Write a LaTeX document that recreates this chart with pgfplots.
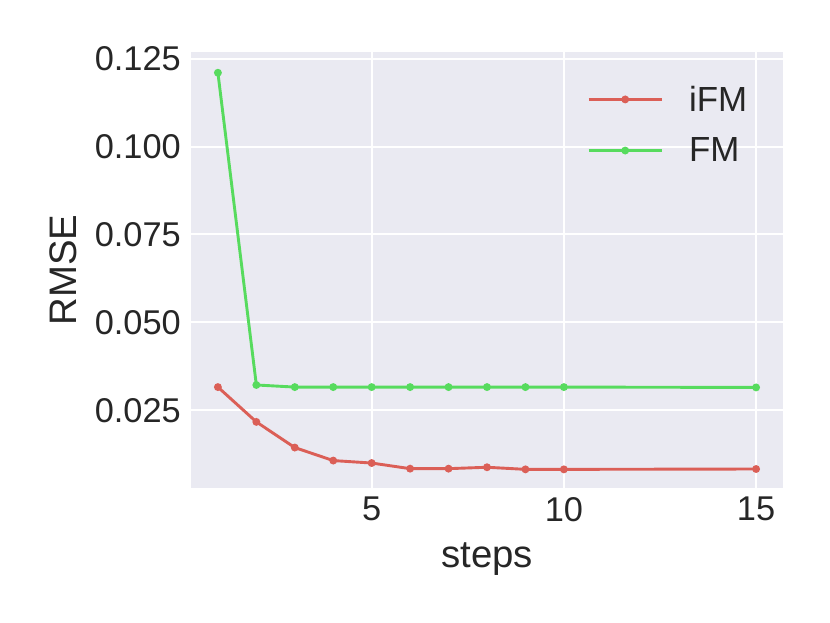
\documentclass[border=0pt]{standalone}
\usepackage{fontspec}
\setmainfont{Liberation Sans}
\usepackage{pgfplots}
\pgfplotsset{compat=1.18}
\definecolor{sbbg}{HTML}{EAEAF2}
\definecolor{ifmred}{RGB}{219,95,87}
\definecolor{fmgreen}{RGB}{87,219,94}
\definecolor{txt}{HTML}{262626}

\begin{document}
\begin{tikzpicture}
\useasboundingbox (-191bp,-135bp) rectangle (639bp,488bp);
\begin{axis}[
  at={(0,0)}, anchor=south west,
  width=592bp, height=436bp, scale only axis,
  xmin=0.3, xmax=15.7, ymin=0.0029, ymax=0.1269,
  axis background/.style={fill=sbbg},
  axis line style={draw=none},
  major tick length=0pt,
  grid=major, grid style={white, line width=2bp},
  xtick={5,10,15}, ytick={0.025,0.05,0.075,0.1,0.125},
  scaled y ticks=false,
  /pgf/number format/assume math mode=true,
  y tick label style={/pgf/number format/fixed, /pgf/number format/fixed zerofill, /pgf/number format/precision=3},
  tick label style={font=\fontsize{34.5}{40}\selectfont, text=txt, inner sep=0pt},
  xticklabel style={anchor=north, yshift=-9bp},
  yticklabel style={anchor=east, xshift=-10bp},
  xlabel={steps}, ylabel={RMSE},
  every axis x label/.style={at={(axis description cs:0.5,0)}, anchor=base, yshift=-79bp,
    font=\fontsize{38.5}{44}\selectfont, text=txt, inner sep=0pt},
  every axis y label/.style={at={(axis description cs:0,0.5)}, xshift=-114bp, rotate=90, anchor=base,
    font=\fontsize{38.5}{44}\selectfont, text=txt, inner sep=0pt},
  legend style={draw=none, fill=none, at={(axis description cs:0.664,0.9315)}, anchor=north west,
    font=\fontsize{35}{40}\selectfont, text=txt, row sep=21bp, column sep=24bp, legend cell align=left},
  legend image code/.code={\draw[mark repeat=2,mark phase=2,#1] plot coordinates {(0bp,0bp) (36.5bp,0bp) (73bp,0bp)};},
]
\addplot[color=ifmred, line width=2.9bp, mark=*, mark size=2.4bp] coordinates {
  (1,0.0316) (2,0.0217) (3,0.0144) (4,0.0107) (5,0.0100) (6,0.0084) (7,0.0084)
  (8,0.0088) (9,0.0082) (10,0.0082) (15,0.0083)
};
\addlegendentry{iFM}
\addplot[color=fmgreen, line width=2.9bp, mark=*, mark size=2.4bp] coordinates {
  (1,0.1210) (2,0.0322) (3,0.0316) (4,0.0316) (5,0.0316) (6,0.0316) (7,0.0316)
  (8,0.0316) (9,0.0316) (10,0.0316) (15,0.0315)
};
\addlegendentry{FM}
\end{axis}
\end{tikzpicture}
\end{document}
